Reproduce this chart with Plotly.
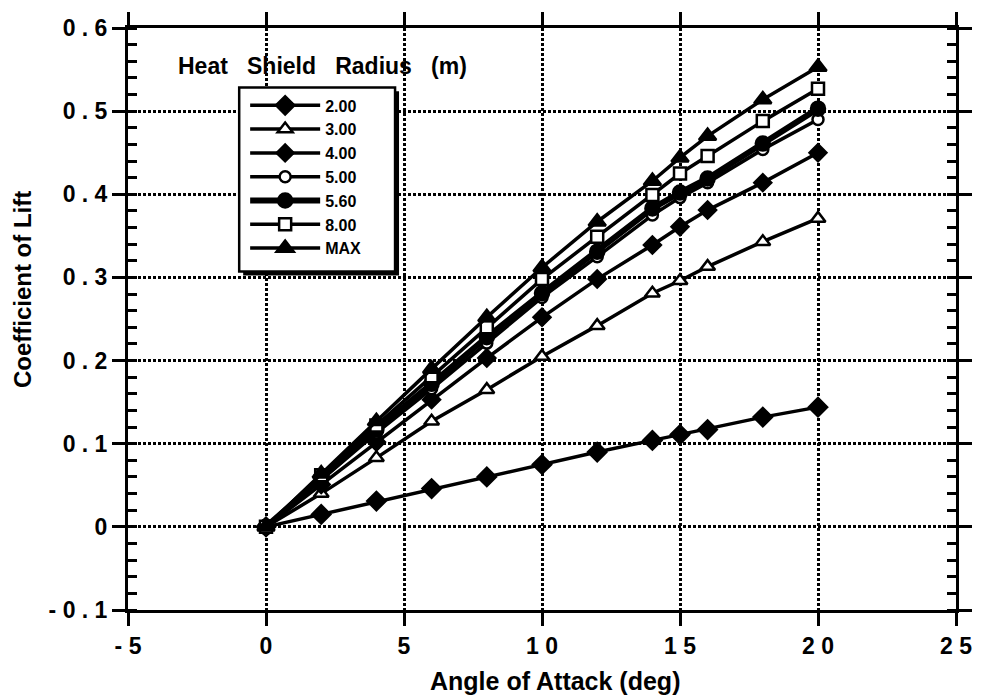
import plotly.graph_objects as go

# Angle of attack (deg) at which each lift coefficient was computed
alpha = [0, 2, 4, 6, 8, 10, 12, 14, 15, 16, 18, 20]

# Lift coefficient per heat shield radius
cl_r200 = [0, 0.015, 0.031, 0.046, 0.060, 0.075, 0.090, 0.104, 0.111, 0.117, 0.132, 0.144]
cl_r300 = [0, 0.040, 0.083, 0.127, 0.165, 0.205, 0.242, 0.281, 0.296, 0.313, 0.343, 0.371]
cl_r400 = [0, 0.051, 0.102, 0.153, 0.203, 0.252, 0.298, 0.339, 0.361, 0.381, 0.414, 0.450]
cl_r500 = [0, 0.057, 0.113, 0.166, 0.221, 0.276, 0.325, 0.375, 0.396, 0.414, 0.454, 0.490]
cl_r560 = [0, 0.059, 0.117, 0.172, 0.228, 0.281, 0.331, 0.383, 0.402, 0.419, 0.461, 0.503]
cl_r800 = [0, 0.062, 0.122, 0.181, 0.240, 0.298, 0.349, 0.399, 0.425, 0.446, 0.488, 0.527]
cl_rmax = [0, 0.064, 0.127, 0.190, 0.252, 0.312, 0.367, 0.416, 0.444, 0.470, 0.514, 0.553]

series_names = ["2.00", "3.00", "4.00", "5.00", "5.60", "8.00", "MAX"]

# Default tick labels and the spaced-out text printed in their place
x_ticks_default = ["\u22125", "0", "5", "10", "15", "20", "25"]
x_ticktext = ["- 5", "0", "5", "1 0", "1 5", "2 0", "2 5"]
y_ticks_default = ["\u22120.1", "0", "0.1", "0.2", "0.3", "0.4", "0.5", "0.6"]
y_ticktext = ["- 0 . 1", "0", "0 . 1", "0 . 2", "0 . 3", "0 . 4", "0 . 5", "0 . 6"]

FONT = "Liberation Sans, Arial, Helvetica, sans-serif"
BLACK = "black"

# (values, marker symbol, marker fill, marker size, line width)
styles = [
    (cl_r200, "diamond", BLACK, 14, 3.5),
    (cl_r300, "triangle-up", "white", 13, 3.5),
    (cl_r400, "diamond", BLACK, 13, 3.5),
    (cl_r500, "circle", "white", 11, 3.5),
    (cl_r560, "circle", BLACK, 14, 6),
    (cl_r800, "square", "white", 12, 3.5),
    (cl_rmax, "triangle-up", BLACK, 15, 3.5),
]

fig = go.Figure()
for name, (vals, sym, fill, size, lw) in zip(series_names, styles):
    fig.add_trace(go.Scatter(
        x=alpha, y=vals, name=name, mode="lines+markers",
        line=dict(color=BLACK, width=lw),
        marker=dict(symbol=sym, size=size, color=fill,
                    line=dict(color=BLACK, width=2.5)),
    ))


def alias(defaults, texts):
    out = {}
    for d, t in zip(defaults, texts):
        out[d] = f"<b>{t}</b>"
        out[d.replace("\u2212", "-")] = f"<b>{t}</b>"
    return out


tick_font = dict(family=FONT, size=23, color=BLACK, weight="bold")
axis_common = dict(
    showline=True, linecolor=BLACK, linewidth=3, mirror="allticks",
    ticks="outside", ticklen=13, tickwidth=2.5, tickcolor=BLACK,
    showgrid=True, gridcolor=BLACK, gridwidth=2.5, griddash="3px,2px",
    zeroline=False, tickfont=tick_font, ticklabelstandoff=0,
)

fig.update_layout(
    xaxis=dict(range=[-5, 25], tickmode="linear", tick0=0, dtick=5,
               labelalias=alias(x_ticks_default, x_ticktext), **axis_common),
    yaxis=dict(range=[-0.1, 0.6], tickmode="linear", tick0=0, dtick=0.1,
               labelalias=alias(y_ticks_default, y_ticktext),
               minor=dict(tick0=0, dtick=0.02, ticks="inside", ticklen=9,
                          tickwidth=3, tickcolor=BLACK, showgrid=False),
               **axis_common),
)

# Plot-area pixel geometry used to place the legend frame and titles
L, R, T, B = 128, 962, 22, 610
W, H = 984, 699


def px(xp):
    return (xp - L) / (R - L)


def py(yp):
    return (B - yp) / (B - T)


# Legend frame with a drop shadow
fig.add_shape(type="rect", xref="paper", yref="paper",
              x0=px(244), x1=px(401), y0=py(272), y1=py(86),
              fillcolor=BLACK, line=dict(width=0), layer="above")
fig.add_shape(type="rect", xref="paper", yref="paper",
              x0=px(240), x1=px(397), y0=py(268), y1=py(82),
              fillcolor="white", line=dict(color=BLACK, width=2.5), layer="above")

fig.add_annotation(text="<b>Heat   Shield   Radius   (m)</b>", xref="paper", yref="paper",
                   x=px(324), y=py(60), xanchor="center", yanchor="middle",
                   showarrow=False, font=dict(family=FONT, size=23, color=BLACK))

fig.add_annotation(text="<b>Angle of Attack (deg)</b>", xref="paper", yref="paper",
                   x=px(558), y=py(682), xanchor="center", yanchor="middle",
                   showarrow=False, font=dict(family=FONT, size=25, color=BLACK))
fig.add_annotation(text="<b>Coefficient of Lift</b>", xref="paper", yref="paper",
                   x=px(22), y=py(286), xanchor="center", yanchor="middle",
                   showarrow=False, textangle=-90,
                   font=dict(family=FONT, size=24, color=BLACK))

fig.update_layout(
    width=W, height=H,
    margin=dict(l=L, r=W - R, t=T, b=H - B),
    paper_bgcolor="white", plot_bgcolor="white",
    font=dict(family=FONT, color=BLACK),
    showlegend=True,
    legend=dict(x=px(246), y=py(83), xanchor="left", yanchor="top",
                bgcolor="rgba(0,0,0,0)", borderwidth=0, itemwidth=70,
                font=dict(family=FONT, size=16, color=BLACK, weight="bold"),
                tracegroupgap=0),
)

fig.write_html("out.html")
